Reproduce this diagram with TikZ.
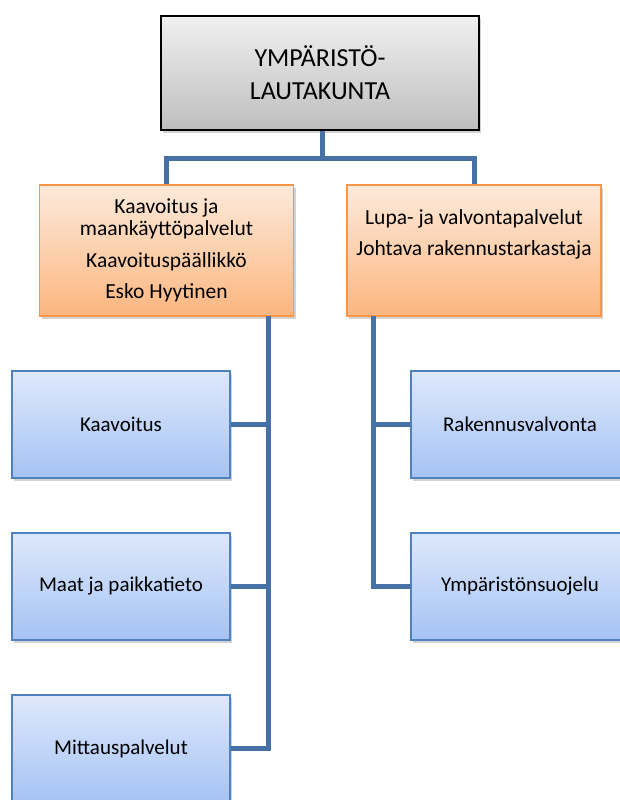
\documentclass[tikz,border=0pt]{standalone}
\usepackage{fontspec}
\setmainfont{Carlito}
\usetikzlibrary{shadows}

\definecolor{linkblue}{RGB}{70,112,166}
\definecolor{boardtop}{RGB}{240,240,240}
\definecolor{boardbot}{RGB}{190,190,190}
\definecolor{unittop}{RGB}{253,234,218}
\definecolor{unitbot}{RGB}{251,182,128}
\definecolor{unitedge}{RGB}{247,150,70}
\definecolor{teamtop}{RGB}{222,232,251}
\definecolor{teambot}{RGB}{165,195,245}
\definecolor{teamedge}{RGB}{79,129,189}

\begin{document}
\begin{tikzpicture}[x=1pt, y=1pt,
    board/.style={draw=black, line width=1.8pt, top color=boardtop, bottom color=boardbot,
        minimum width=318pt, minimum height=114pt, align=center,
        font=\fontsize{26}{33}\selectfont,
        drop shadow={shadow xshift=2pt, shadow yshift=-3pt, opacity=0.35}},
    unit/.style={draw=unitedge, line width=1.2pt, top color=unittop, bottom color=unitbot,
        minimum width=254pt, minimum height=131pt, align=center,
        font=\fontsize{21.5}{22}\selectfont,
        drop shadow={shadow xshift=2pt, shadow yshift=-3pt, opacity=0.35}},
    team/.style={draw=teamedge, line width=1.2pt, top color=teamtop, bottom color=teambot,
        minimum width=218pt, minimum height=107pt,
        font=\fontsize{21}{22}\selectfont,
        drop shadow={shadow xshift=2pt, shadow yshift=-3pt, opacity=0.35}},
    link/.style={draw=linkblue, line width=5pt}
]

    % page frame
    \fill[white] (0,0) rectangle (620,-800);
    \useasboundingbox (0,0) rectangle (620,-800);
    \clip (0,0) rectangle (620,-800);

    % 1. Board at the top
    \node[board] (board) at (320,-73) {YMPÄRISTÖ-\\LAUTAKUNTA};

    % 2. The two service units
    \node[unit] (plan) at (166.5,-250.5)
        {Kaavoitus ja\\maankäyttöpalvelut\\[10pt]Kaavoituspäällikkö\\[9pt]Esko Hyytinen};
    \node[unit, label={[anchor=north, yshift=-22pt, align=center,
            font=\fontsize{21.5}{31}\selectfont]north:Lupa- ja valvontapalvelut\\Johtava rakennustarkastaja}]
        (permit) at (474,-250.5) {};

    % 3. Teams below the units
    \node[team] (zoning) at (121,-424.5) {Kaavoitus};
    \node[team] (land)   at (121,-586.5) {Maat ja paikkatieto};
    \node[team] (survey) at (121,-748.5) {Mittauspalvelut};
    \node[team] (build)  at (520,-424.5) {Rakennusvalvonta};
    \node[team] (envir)  at (520,-586.5) {Ympäristönsuojelu};

    % 4. Junctions of the connectors
    \coordinate (split) at (322,-158);
    \coordinate (lbus) at (268,-316);
    \coordinate (rbus) at (373,-316);

    % 5. Connectors
    \draw[link, line join=miter] (board.south -| split) -- (split);
    \draw[link, line join=miter] (plan.north) |- (split) -| (permit.north);
    \draw[link, line join=miter] (lbus) |- (survey.east);
    \draw[link] (zoning.east) -- (zoning.east -| lbus);
    \draw[link] (land.east) -- (land.east -| lbus);
    \draw[link, line join=miter] (rbus) |- (envir.west);
    \draw[link] (build.west) -- (build.west -| rbus);

\end{tikzpicture}
\end{document}
